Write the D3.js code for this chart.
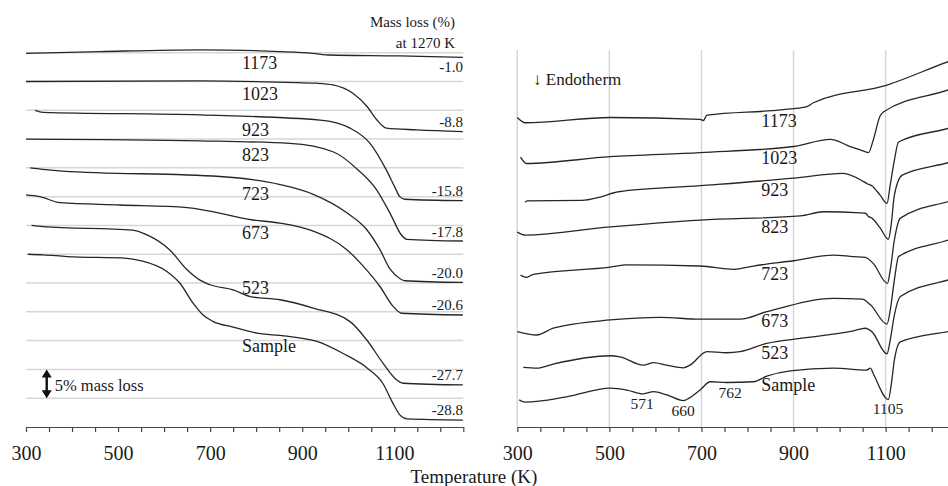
<!DOCTYPE html>
<html>
<head>
<meta charset="utf-8">
<script src="https://cdn.jsdelivr.net/npm/d3@7"></script>
<style>
  body { margin: 0; background: #fff; }
  svg text { font-family: "Liberation Serif", "DejaVu Serif", serif; fill: #1a1a1a; }
</style>
</head>
<body>
<svg id="chart" width="948" height="486"></svg>
<script>
// sample names, top to bottom
var names = ["1173", "1023", "923", "823", "723", "673", "523", "Sample"];

// TG: mass change (%) vs temperature (K), each trace stacked by its offset
var tgOffsets = [0, -5, -10, -15, -20, -25, -30, -35];
var massLoss1270 = [-1.0, -8.8, -15.8, -17.8, -20.0, -20.6, -27.7, -28.8];

var tg1173 = [[300, -0.1], [461, 0.2], [678, 0.5], [852, 0.2], [923, -0.1], [960, -0.4], [1112, -0.55], [1249, -0.8]];
var tg1023 = [[300, 0], [678, 0.1], [889, -0.2], [930, -0.3], [967, -0.6], [1010, -2.05], [1041, -4.35], [1062, -6.65], [1083, -8.1], [1149, -8.4], [1249, -8.7]];
var tg923 = [[320, 0], [337, -0.35], [678, -0.8], [939, -1.7], [1004, -3.1], [1047, -5.7], [1083, -10.4], [1101, -13.3], [1112, -15.0], [1123, -15.45], [1249, -15.7]];
var tg823 = [[300, 0], [678, -0.3], [873, -0.75], [967, -2.2], [1022, -5.4], [1062, -8.85], [1091, -12.9], [1116, -16.7], [1127, -17.4], [1249, -17.7]];
var tg723 = [[309, 0], [337, -0.25], [380, -0.55], [721, -1.5], [852, -2.9], [924, -4.6], [997, -7.8], [1040, -10.7], [1069, -14.2], [1091, -17.6], [1112, -19.2], [1123, -19.6], [1249, -19.9]];
var tg673 = [[300, 0.3], [330, 0], [374, -1.05], [504, -1.45], [650, -1.9], [793, -4.05], [852, -4.6], [924, -6.0], [997, -9.2], [1033, -12.1], [1069, -15.6], [1098, -19.1], [1116, -20.25], [1249, -20.55]];
var tg523 = [[312, 0], [337, -0.2], [532, -0.8], [563, -1.65], [613, -4.3], [650, -7.7], [678, -9.5], [700, -10.3], [750, -11.2], [787, -12.35], [852, -12.9], [924, -14.35], [1004, -16.7], [1040, -19.85], [1075, -23.85], [1105, -26.8], [1119, -27.4], [1249, -27.7]];
var tgSample = [[304, 0], [337, -0.1], [389, -0.4], [519, -0.7], [548, -1.1], [606, -3.0], [634, -5.0], [663, -8.5], [684, -10.5], [706, -11.65], [750, -12.65], [802, -13.7], [873, -14.3], [932, -15.15], [988, -17.2], [1041, -19.75], [1075, -22.4], [1097, -25.85], [1112, -27.9], [1128, -28.6], [1249, -28.8]];
var tgCurves = [tg1173, tg1023, tg923, tg823, tg723, tg673, tg523, tgSample];

// DSC: heat flow (a.u., stacked) vs temperature (K)
var dsc1173 = [[300, 82.1], [317, 80.7], [502, 82.1], [697, 81.6], [704, 81.3], [712, 82.7], [871, 84.1], [929, 85.0], [943, 86.0], [1103, 90.7], [1236, 96.9], [1250, 97.5]];
var dsc1023 = [[307, 71.6], [320, 69.9], [502, 71.7], [697, 72.8], [900, 74.4], [980, 76.3], [1023, 74.4], [1045, 73.5], [1063, 72.8], [1073, 76.1], [1088, 82.5], [1096, 83.6], [1236, 89.4], [1250, 90.0]];
var dsc923 = [[317, 59.6], [321, 60.0], [440, 60.1], [480, 61.0], [520, 62.4], [697, 64.0], [900, 66.0], [1008, 67.3], [1052, 65.1], [1059, 64.6], [1070, 64.0], [1088, 61.5], [1103, 59.3], [1110, 64.2], [1119, 70.8], [1128, 75.6], [1236, 79.2], [1250, 79.7]];
var dsc823 = [[300, 51.7], [317, 50.9], [502, 53.1], [697, 54.9], [915, 56.0], [965, 57.1], [1045, 56.8], [1056, 56.7], [1063, 55.8], [1070, 55.4], [1088, 52.8], [1106, 49.8], [1112, 53.6], [1119, 61.5], [1136, 66.8], [1236, 70.1], [1250, 70.6]];
var dsc723 = [[307, 40.3], [320, 39.7], [335, 40.5], [502, 42.4], [538, 43.0], [697, 42.7], [770, 41.8], [813, 42.7], [900, 44.1], [987, 45.6], [1030, 45.2], [1056, 45.0], [1073, 43.4], [1104, 38.1], [1110, 41.6], [1119, 49.6], [1132, 55.4], [1236, 59.8], [1250, 60.3]];
var dsc673 = [[300, 25.3], [342, 24.4], [378, 26.2], [502, 28.4], [610, 29.1], [697, 28.6], [784, 28.6], [842, 30.6], [987, 34.1], [1049, 33.9], [1067, 32.4], [1103, 27.3], [1110, 31.0], [1119, 39.0], [1128, 45.2], [1236, 49.6], [1250, 50.2]];
var dsc523 = [[313, 15.8], [342, 15.6], [378, 16.7], [502, 18.9], [523, 18.6], [574, 16.4], [596, 17.1], [625, 16.4], [661, 15.7], [675, 16.4], [712, 20.0], [755, 19.7], [784, 20.0], [842, 22.2], [915, 23.5], [1030, 25.5], [1056, 26.2], [1070, 25.3], [1103, 19.4], [1110, 23.1], [1119, 29.7], [1132, 34.6], [1236, 39.0], [1250, 39.5]];
var dscSample = [[304, 7.2], [317, 6.6], [407, 8.0], [502, 10.3], [538, 9.8], [574, 8.8], [596, 9.4], [625, 8.5], [661, 7.0], [668, 7.3], [697, 9.8], [719, 12.0], [755, 11.8], [813, 12.0], [842, 13.5], [893, 14.9], [987, 15.6], [1059, 15.1], [1067, 15.6], [1073, 14.2], [1106, 7.3], [1112, 11.1], [1119, 17.8], [1132, 22.6], [1236, 25.3], [1250, 25.6]];
var dscCurves = [dsc1173, dsc1023, dsc923, dsc823, dsc723, dsc673, dsc523, dscSample];

// peak temperatures marked on the sample DSC trace
var samplePeaks = [571, 660, 762, 1105];

// axis
var tempDomain = [300, 1250];
var majorTicks = [300, 500, 700, 900, 1100];
var gridLevels = d3.range(0, -61, -5);

var svg = d3.select("#chart");

var xL = d3.scaleLinear().domain(tempDomain).range([26, 463.3]);
var yL = d3.scaleLinear().domain([0, -65]).range([52.7, 427]);
var xR = d3.scaleLinear().domain(tempDomain).range([517.3, 954.7]);
var yR = d3.scaleLinear().domain([0, 100]).range([427, 50]);

// linear lookup of a trace value at temperature t
function valueAt(points, t) {
    for (var i = 1; i < points.length; i++) {
        if (points[i][0] >= t) {
            var a = points[i - 1], b = points[i];
            return a[1] + (b[1] - a[1]) * (t - a[0]) / (b[0] - a[0]);
        }
    }
    return points[points.length - 1][1];
}

function drawAxis(x) {
    var axis = d3.axisBottom(x)
        .tickValues(d3.range(300, 1251, 50))
        .tickSize(5)
        .tickSizeOuter(0)
        .tickPadding(13.5)
        .tickFormat(function (d) { return majorTicks.indexOf(d) >= 0 ? d : ""; });
    var g = svg.append("g").attr("transform", "translate(0,427)").call(axis);
    g.select(".domain").attr("stroke", "#444").attr("stroke-width", 1.2);
    g.selectAll(".tick line").attr("stroke", "#444").attr("stroke-width", 1.2);
    g.selectAll(".tick text")
        .attr("font-family", "Liberation Serif")
        .attr("font-size", 20)
        .attr("fill", "#1a1a1a");
}

/* Left panel: stacked TG traces */
function drawTgPanel() {
    svg.append("g").selectAll("line").data(gridLevels).join("line")
        .attr("x1", xL(300)).attr("x2", xL(1250))
        .attr("y1", function (d) { return yL(d); })
        .attr("y2", function (d) { return yL(d); })
        .attr("stroke", "#d6d6d6").attr("stroke-width", 1.5);

    drawAxis(xL);

    tgCurves.forEach(function (pts, i) {
        var line = d3.line()
            .x(function (d) { return xL(d[0]); })
            .y(function (d) { return yL(tgOffsets[i] + d[1]); })
            .curve(d3.curveMonotoneX);
        svg.append("path").datum(pts)
            .attr("d", line)
            .attr("fill", "none").attr("stroke", "#262626").attr("stroke-width", 1.3);

        // sample name under (or just over) the trace
        var yc = yL(tgOffsets[i] + valueAt(pts, 810));
        svg.append("text")
            .attr("x", xL(769))
            .attr("y", names[i] == "523" ? yc - 4 : yc + 18)
            .attr("font-size", 18)
            .text(names[i]);

        // mass loss at 1270 K
        var ye = yL(tgOffsets[i] + massLoss1270[i]);
        svg.append("text")
            .attr("x", 463)
            .attr("y", i == 0 ? ye + 13.5 : ye - 5)
            .attr("text-anchor", "end")
            .attr("font-size", 15)
            .text(massLoss1270[i].toFixed(1));
    });

    svg.append("text").attr("x", 455).attr("y", 27).attr("text-anchor", "end")
        .attr("font-size", 15).text("Mass loss (%)");
    svg.append("text").attr("x", 455).attr("y", 48).attr("text-anchor", "end")
        .attr("font-size", 15).text("at 1270 K");

    // 5% scale bar
    var ax = xL(345), y1 = yL(-55), y2 = yL(-60);
    svg.append("line").attr("x1", ax).attr("x2", ax)
        .attr("y1", y1 + 5).attr("y2", y2 - 5)
        .attr("stroke", "#111").attr("stroke-width", 2.4);
    svg.append("path")
        .attr("d", "M" + (ax - 5) + "," + (y1 + 8) + "L" + ax + "," + y1 + "L" + (ax + 5) + "," + (y1 + 8) + "Z" +
                   "M" + (ax - 5) + "," + (y2 - 8) + "L" + ax + "," + y2 + "L" + (ax + 5) + "," + (y2 - 8) + "Z")
        .attr("fill", "#111");
    svg.append("text").attr("x", ax + 8).attr("y", 391)
        .attr("font-size", 16.5).text("5% mass loss");
}

/* Right panel: stacked DSC traces */
function drawDscPanel() {
    svg.append("g").selectAll("line").data(majorTicks).join("line")
        .attr("x1", function (d) { return xR(d); })
        .attr("x2", function (d) { return xR(d); })
        .attr("y1", 50).attr("y2", 427)
        .attr("stroke", "#d6d6d6").attr("stroke-width", 1.5);

    drawAxis(xR);

    var line = d3.line()
        .x(function (d) { return xR(d[0]); })
        .y(function (d) { return yR(d[1]); })
        .curve(d3.curveMonotoneX);

    dscCurves.forEach(function (pts, i) {
        svg.append("path").datum(pts)
            .attr("d", line)
            .attr("fill", "none").attr("stroke", "#262626").attr("stroke-width", 1.3);
        svg.append("text")
            .attr("x", xR(830))
            .attr("y", yR(valueAt(pts, 860)) + 16.5)
            .attr("font-size", 18)
            .text(names[i]);
    });

    svg.append("g").selectAll("text").data(samplePeaks).join("text")
        .attr("x", function (d) { return xR(d); })
        .attr("y", function (d) { return yR(valueAt(dscSample, d)) + 15.5; })
        .attr("text-anchor", "middle")
        .attr("font-size", 15.5)
        .text(function (d) { return d; });

    svg.append("text").attr("x", 533).attr("y", 85)
        .attr("font-size", 17).text("\u2193 Endotherm");
}

drawTgPanel();
drawDscPanel();

svg.append("text").attr("x", 474).attr("y", 482.5).attr("text-anchor", "middle")
    .attr("font-size", 19).text("Temperature (K)");
</script>
</body>
</html>
